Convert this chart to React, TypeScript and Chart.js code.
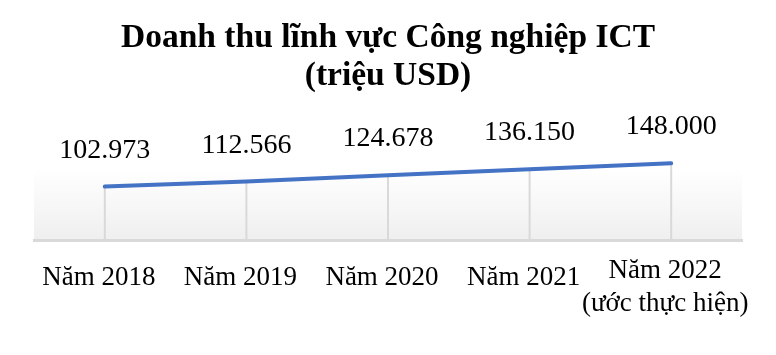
import React, { useEffect, useRef } from "react";
import { Chart, registerables } from "chart.js";

Chart.register(...registerables);

const titleLines = ["Doanh thu lĩnh vực Công nghiệp ICT", "(triệu USD)"];
const categories: string[][] = [
  ["Năm 2018"],
  ["Năm 2019"],
  ["Năm 2020"],
  ["Năm 2021"],
  ["Năm 2022", "(ước thực hiện)"],
];
const revenue = [102973, 112566, 124678, 136150, 148000];
const valueLabels = ["102.973", "112.566", "124.678", "136.150", "148.000"];

const SERIF = '"Liberation Serif", "Times New Roman", serif';

const decorPlugin = {
  id: "decor",
  beforeDraw(chart: any) {
    const { ctx, chartArea } = chart;
    const g = ctx.createLinearGradient(0, chartArea.top, 0, chartArea.bottom);
    g.addColorStop(0, "#ffffff");
    g.addColorStop(0.15, "#ffffff");
    g.addColorStop(1, "#efefef");
    ctx.save();
    ctx.fillStyle = g;
    ctx.fillRect(chartArea.left, chartArea.top, chartArea.right - chartArea.left, chartArea.bottom - chartArea.top);
    ctx.restore();
  },
  beforeDatasetsDraw(chart: any) {
    const { ctx, chartArea } = chart;
    const meta = chart.getDatasetMeta(0);
    ctx.save();
    ctx.strokeStyle = "#d9d9d9";
    ctx.lineWidth = 2;
    meta.data.forEach((pt: any) => {
      ctx.beginPath();
      ctx.moveTo(pt.x, pt.y);
      ctx.lineTo(pt.x, chartArea.bottom);
      ctx.stroke();
    });
    ctx.restore();
  },
  afterDatasetsDraw(chart: any) {
    const { ctx, chartArea } = chart;
    const meta = chart.getDatasetMeta(0);
    const xScale = chart.scales.x;
    ctx.save();
    ctx.fillStyle = "#000000";
    ctx.textAlign = "center";
    ctx.textBaseline = "alphabetic";
    // value labels
    ctx.font = `28px ${SERIF}`;
    meta.data.forEach((pt: any, i: number) => {
      ctx.fillText(valueLabels[i], pt.x, pt.y - 29);
    });
    // category labels
    ctx.font = `27px ${SERIF}`;
    const lh = 33;
    categories.forEach((lines, i) => {
      const x = xScale.getPixelForValue(i) - 6;
      const n = lines.length;
      const firstBase = chartArea.bottom + 45 - (n - 1) * 7;
      lines.forEach((ln, j) => {
        ctx.fillText(ln, x, firstBase + j * lh);
      });
    });
    // title
    ctx.font = `bold 33.5px ${SERIF}`;
    const cx = chart.width / 2;
    ctx.fillText(titleLines[0], cx, 47);
    ctx.fillText(titleLines[1], cx, 85);
    ctx.restore();
  },
};

export default function App() {
  const ref = useRef<HTMLCanvasElement | null>(null);
  useEffect(() => {
    document.body.style.margin = "0";
    const canvas = ref.current!;
    const chart = new Chart(canvas, {
      type: "line",
      data: {
        labels: categories.map((c) => c.join(" ")),
        datasets: [
          {
            data: revenue,
            borderColor: "#4472C4",
            borderWidth: 4,
            borderCapStyle: "round",
            borderJoinStyle: "round",
            pointRadius: 0,
            pointHoverRadius: 0,
            tension: 0,
            fill: false,
          },
        ],
      },
      options: {
        responsive: false,
        animation: false,
        devicePixelRatio: 1,
        layout: { padding: { left: 34, right: 34, top: 157, bottom: 115 } },
        plugins: {
          legend: { display: false },
          title: { display: false },
          tooltip: { enabled: false },
        },
        scales: {
          x: {
            type: "category",
            offset: true,
            display: true,
            grid: { display: false, drawTicks: false, tickLength: 0 },
            border: { display: true, color: "#d9d9d9", width: 3 },
            ticks: { display: false, padding: 0 },
          },
          y: {
            display: false,
            min: 0,
            max: 160000,
          },
        },
      },
      plugins: [decorPlugin],
    });
    return () => chart.destroy();
  }, []);
  return (
    <div style={{ width: 776, height: 355, background: "#ffffff" }}>
      <canvas ref={ref} width={776} height={355} style={{ display: "block" }} />
    </div>
  );
}
